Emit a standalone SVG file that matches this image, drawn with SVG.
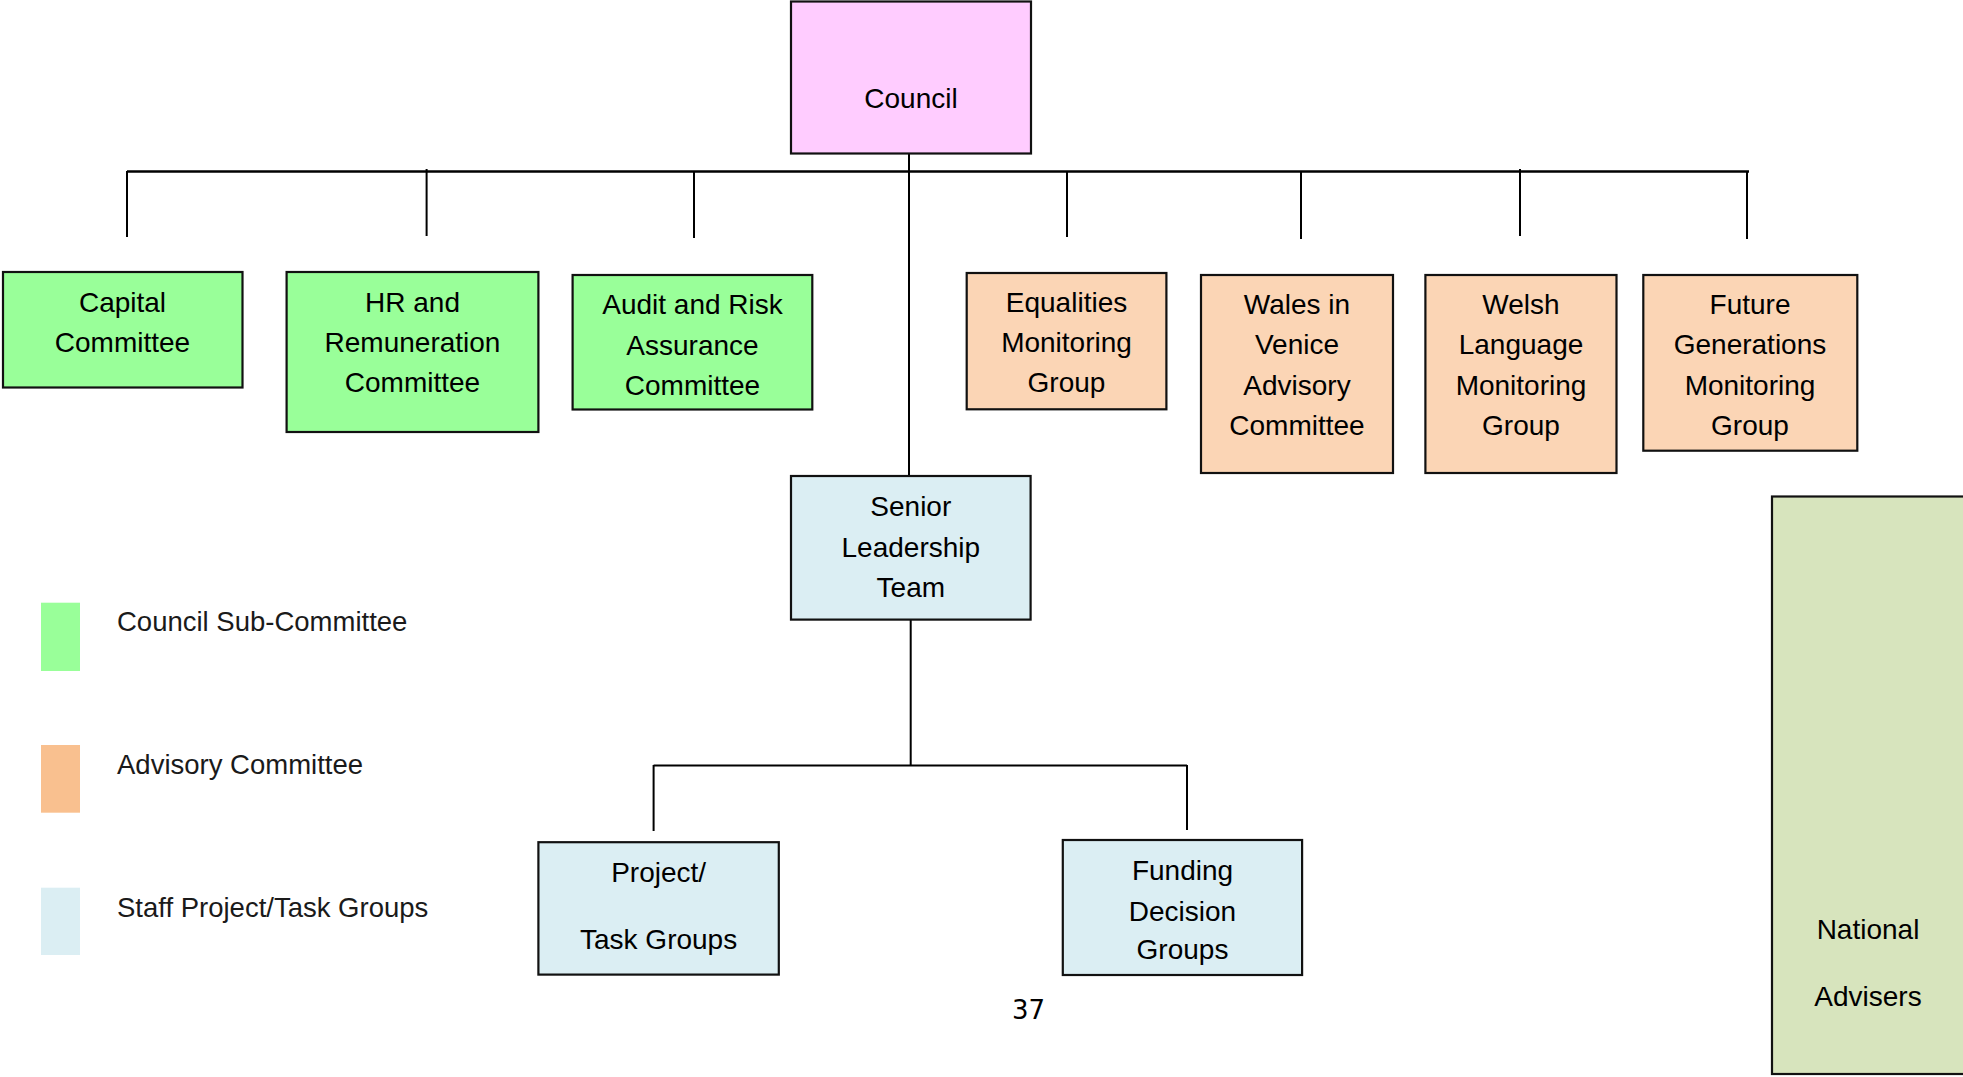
<svg xmlns="http://www.w3.org/2000/svg" width="1963" height="1077" viewBox="0 0 1963 1077">
<style>
.box{stroke:#111;stroke-width:2.2}
.council{fill:#FFCCFF}
.sub{fill:#99FF99}
.adv{fill:#FBD5B5}
.staff{fill:#DBEEF3}
.nat{fill:#D7E4BD}
.t{font-family:"Liberation Sans",Arial,sans-serif;font-size:28px;fill:#000;text-anchor:middle}
.lg{font-family:"Liberation Sans",Arial,sans-serif;font-size:27.5px;fill:#1a1a1a}
.pg{font-family:"DejaVu Sans",sans-serif;font-size:26px;fill:#000}
.c{stroke:#000;stroke-width:2;fill:none}
</style>
<rect width="1963" height="1077" fill="#fff"/>
<g id="connectors">
<line class="c" x1="127" y1="171.5" x2="1749" y2="171.5" style="stroke-width:2.6"/>
<line class="c" x1="127" y1="171" x2="127" y2="237"/>
<line class="c" x1="426.6" y1="169" x2="426.6" y2="236"/>
<line class="c" x1="694" y1="171" x2="694" y2="238"/>
<line class="c" x1="1067" y1="171" x2="1067" y2="237"/>
<line class="c" x1="1301" y1="171" x2="1301" y2="239"/>
<line class="c" x1="1520" y1="169" x2="1520" y2="236"/>
<line class="c" x1="1747" y1="171" x2="1747" y2="239"/>
<line class="c" x1="909" y1="154" x2="909" y2="476"/>
<line class="c" x1="910.7" y1="620" x2="910.7" y2="766"/>
<line class="c" x1="653.6" y1="765.5" x2="1187" y2="765.5"/>
<line class="c" x1="653.6" y1="765" x2="653.6" y2="831"/>
<line class="c" x1="1187" y1="765" x2="1187" y2="830"/>
</g>
<g id="council">
<rect class="box council" x="791" y="1.5" width="240" height="152"/>
<text class="t" x="911" y="108">Council</text>
</g>
<g id="capital">
<rect class="box sub" x="3" y="272" width="239.5" height="115.5"/>
<text class="t" x="122.5" y="311.5">Capital</text>
<text class="t" x="122.5" y="351.5">Committee</text>
</g>
<g id="hr">
<rect class="box sub" x="286.6" y="272" width="251.8" height="160"/>
<text class="t" x="412.5" y="311.5">HR and</text>
<text class="t" x="412.5" y="351.5">Remuneration</text>
<text class="t" x="412.5" y="391.5">Committee</text>
</g>
<g id="audit">
<rect class="box sub" x="572.6" y="275" width="239.7" height="134.5"/>
<text class="t" x="692.5" y="314">Audit and Risk</text>
<text class="t" x="692.5" y="355">Assurance</text>
<text class="t" x="692.5" y="395">Committee</text>
</g>
<g id="equalities">
<rect class="box adv" x="966.7" y="273" width="199.7" height="136.3"/>
<text class="t" x="1066.5" y="311.5">Equalities</text>
<text class="t" x="1066.5" y="352">Monitoring</text>
<text class="t" x="1066.5" y="392">Group</text>
</g>
<g id="wales">
<rect class="box adv" x="1201" y="275" width="192" height="198"/>
<text class="t" x="1297" y="314">Wales in</text>
<text class="t" x="1297" y="354">Venice</text>
<text class="t" x="1297" y="395">Advisory</text>
<text class="t" x="1297" y="435">Committee</text>
</g>
<g id="welsh">
<rect class="box adv" x="1425.4" y="275" width="191.1" height="198"/>
<text class="t" x="1521" y="314">Welsh</text>
<text class="t" x="1521" y="354">Language</text>
<text class="t" x="1521" y="395">Monitoring</text>
<text class="t" x="1521" y="435">Group</text>
</g>
<g id="future">
<rect class="box adv" x="1643.3" y="275" width="214" height="175.7"/>
<text class="t" x="1750" y="314">Future</text>
<text class="t" x="1750" y="354">Generations</text>
<text class="t" x="1750" y="395">Monitoring</text>
<text class="t" x="1750" y="435">Group</text>
</g>
<g id="senior">
<rect class="box staff" x="791" y="476" width="239.6" height="143.6"/>
<text class="t" x="910.8" y="515.5">Senior</text>
<text class="t" x="910.8" y="556.5">Leadership</text>
<text class="t" x="910.8" y="596.5">Team</text>
</g>
<g id="project">
<rect class="box staff" x="538.4" y="842.2" width="240.4" height="132.4"/>
<text class="t" x="658.6" y="882">Project/</text>
<text class="t" x="658.6" y="948.5">Task Groups</text>
</g>
<g id="funding">
<rect class="box staff" x="1062.8" y="840" width="239.3" height="135"/>
<text class="t" x="1182.5" y="880">Funding</text>
<text class="t" x="1182.5" y="920.5">Decision</text>
<text class="t" x="1182.5" y="959">Groups</text>
</g>
<g id="national">
<rect class="box nat" x="1772" y="496.5" width="200" height="577.5"/>
<text class="t" x="1868" y="939">National</text>
<text class="t" x="1868" y="1005.5">Advisers</text>
</g>
<g id="legend">
<rect x="41" y="602.7" width="39" height="68.3" fill="#99FF99"/>
<text class="lg" x="117" y="631">Council Sub-Committee</text>
<rect x="41" y="745" width="39" height="67.7" fill="#F9C08F"/>
<text class="lg" x="117" y="774">Advisory Committee</text>
<rect x="41" y="887.7" width="39" height="67.3" fill="#DBEEF3"/>
<text class="lg" x="117" y="916.5">Staff Project/Task Groups</text>
</g>
<text class="pg" x="1012" y="1019">37</text>
</svg>
